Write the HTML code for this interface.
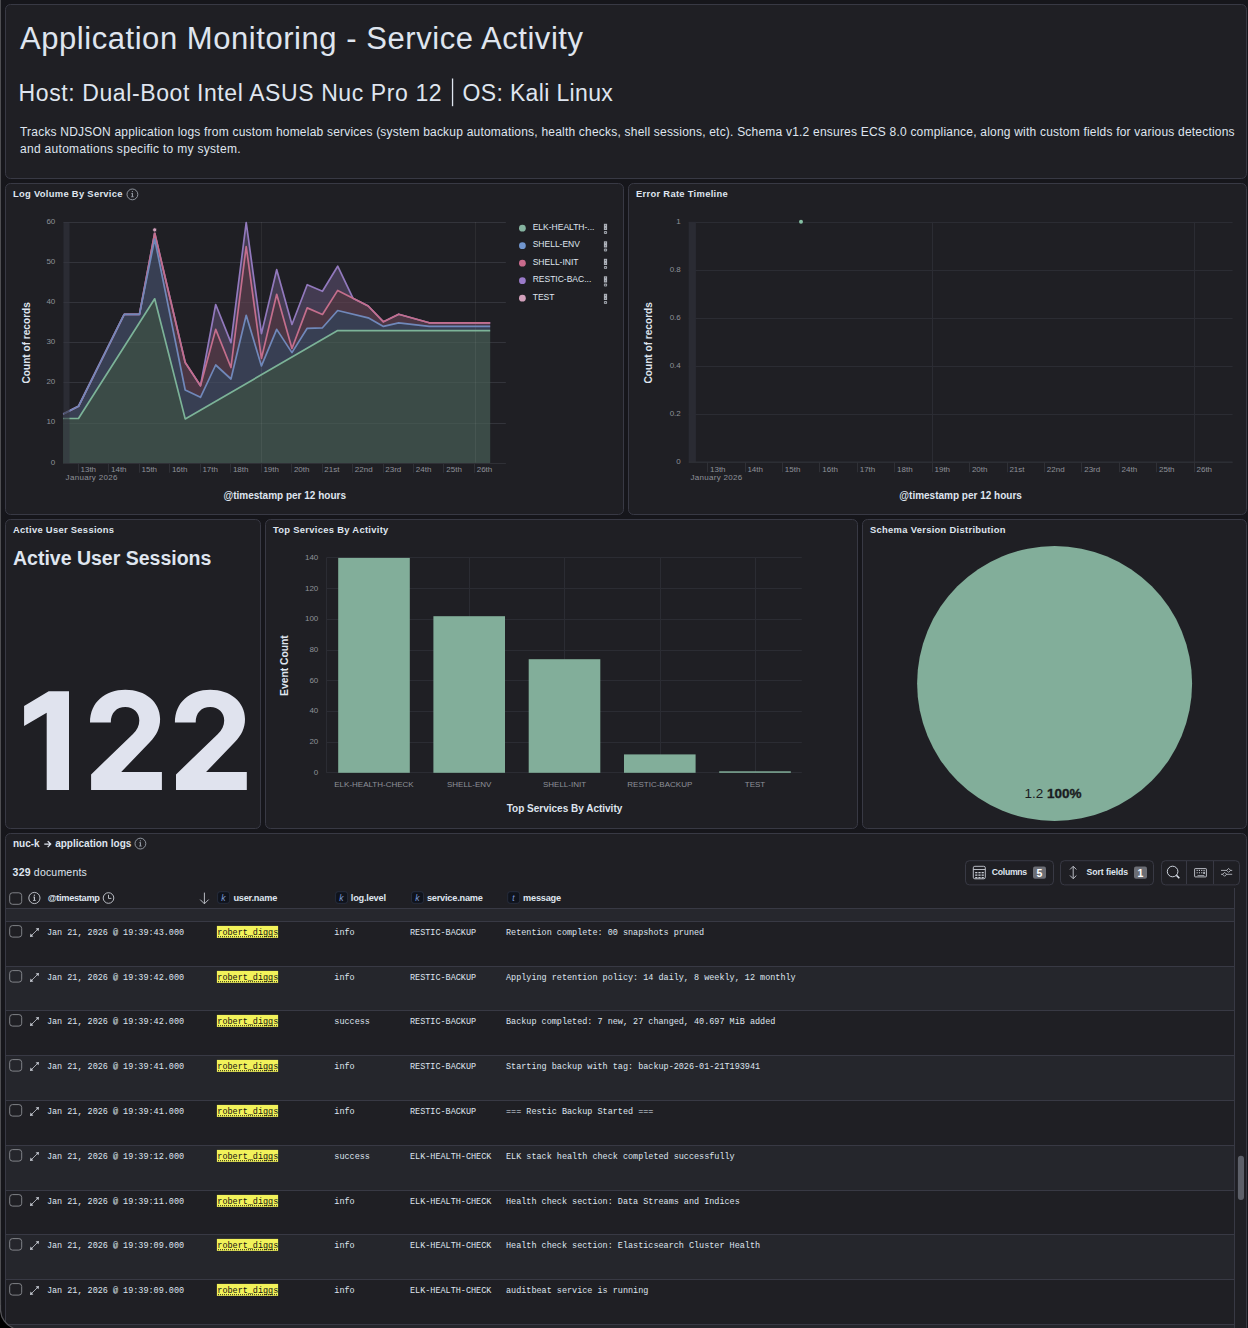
<!DOCTYPE html>
<html><head><meta charset="utf-8"><title>Application Monitoring - Service Activity</title>
<style>
html,body{margin:0;padding:0;background:#16161b;width:1248px;height:1328px;overflow:hidden;font-family:"Liberation Sans", sans-serif;}
svg{position:absolute;left:0;top:0;display:block}
.edge{position:absolute;left:0;top:0;width:1px;height:1305px;background:#4e4e52}
</style></head>
<body>
<svg width="1248" height="1328" viewBox="0 0 1248 1328">
<rect x="5.5" y="4.5" width="1241" height="174" rx="5" fill="#1f1f24" stroke="#383944" stroke-width="1"/>
<rect x="5.5" y="183.5" width="618" height="331" rx="5" fill="#1f1f24" stroke="#383944" stroke-width="1"/>
<rect x="628.5" y="183.5" width="618" height="331" rx="5" fill="#1f1f24" stroke="#383944" stroke-width="1"/>
<rect x="5.5" y="519.5" width="255" height="309" rx="5" fill="#1f1f24" stroke="#383944" stroke-width="1"/>
<rect x="265.5" y="519.5" width="592" height="309" rx="5" fill="#1f1f24" stroke="#383944" stroke-width="1"/>
<rect x="862.5" y="519.5" width="384" height="309" rx="5" fill="#1f1f24" stroke="#383944" stroke-width="1"/>
<rect x="5.5" y="833.5" width="1241" height="507" rx="5" fill="#1f1f24" stroke="#383944" stroke-width="1"/>
<text x="20" y="48.9" font-family='"Liberation Sans", sans-serif' font-size="31" font-weight="normal" fill="#dfe5ef" text-anchor="start" letter-spacing="0.55" >Application Monitoring - Service Activity</text>
<text x="18.6" y="100.8" font-family='"Liberation Sans", sans-serif' font-size="23" font-weight="normal" fill="#dfe5ef" text-anchor="start" letter-spacing="0.6" >Host: Dual-Boot Intel ASUS Nuc Pro 12</text>
<rect x="451.9" y="78.5" width="1.3" height="27.7" fill="#dfe5ef"/>
<text x="462.5" y="100.8" font-family='"Liberation Sans", sans-serif' font-size="23" font-weight="normal" fill="#dfe5ef" text-anchor="start" letter-spacing="0.35" >OS: Kali Linux</text>
<text x="20" y="135.8" font-family='"Liberation Sans", sans-serif' font-size="12" font-weight="normal" fill="#dfe5ef" text-anchor="start" letter-spacing="0.208" >Tracks NDJSON application logs from custom homelab services (system backup automations, health checks, shell sessions, etc). Schema v1.2 ensures ECS 8.0 compliance, along with custom fields for various detections</text>
<text x="20" y="152.5" font-family='"Liberation Sans", sans-serif' font-size="12" font-weight="normal" fill="#dfe5ef" text-anchor="start" letter-spacing="0.3" >and automations specific to my system.</text>
<text x="13" y="197" font-family='"Liberation Sans", sans-serif' font-size="9.4" font-weight="bold" fill="#dfe5ef" text-anchor="start" letter-spacing="0.3" >Log Volume By Service</text>
<text x="636" y="197" font-family='"Liberation Sans", sans-serif' font-size="9.4" font-weight="bold" fill="#dfe5ef" text-anchor="start" letter-spacing="0.3" >Error Rate Timeline</text>
<text x="13" y="533.3" font-family='"Liberation Sans", sans-serif' font-size="9.4" font-weight="bold" fill="#dfe5ef" text-anchor="start" letter-spacing="0.3" >Active User Sessions</text>
<text x="273" y="533.3" font-family='"Liberation Sans", sans-serif' font-size="9.4" font-weight="bold" fill="#dfe5ef" text-anchor="start" letter-spacing="0.3" >Top Services By Activity</text>
<text x="870" y="533.3" font-family='"Liberation Sans", sans-serif' font-size="9.4" font-weight="bold" fill="#dfe5ef" text-anchor="start" letter-spacing="0.3" >Schema Version Distribution</text>
<text x="13" y="847.2" font-family='"Liberation Sans", sans-serif' font-size="10" font-weight="bold" fill="#dfe5ef" text-anchor="start" >nuc-k</text>
<text x="55.2" y="847.2" font-family='"Liberation Sans", sans-serif' font-size="10" font-weight="bold" fill="#dfe5ef" text-anchor="start" >application logs</text>
<path d="M44.3,844.1 H50.6 M47.7,841.1 L50.7,844.1 L47.7,847.1" fill="none" stroke="#dfe5ef" stroke-width="1.3"/>
<circle cx="132.4" cy="194.4" r="5.4" fill="none" stroke="#9aa0aa" stroke-width="0.9"/>
<rect x="131.85" y="193.10" width="1.1" height="3.8" fill="#9aa0aa"/>
<rect x="131.30" y="193.10" width="1.1" height="0.7" fill="#9aa0aa"/>
<rect x="131.00" y="196.50" width="2.8" height="0.7" fill="#9aa0aa"/>
<circle cx="132.4" cy="191.60" r="0.65" fill="#9aa0aa"/>
<circle cx="140.4" cy="843.6" r="5.4" fill="none" stroke="#9aa0aa" stroke-width="0.9"/>
<rect x="139.85" y="842.30" width="1.1" height="3.8" fill="#9aa0aa"/>
<rect x="139.30" y="842.30" width="1.1" height="0.7" fill="#9aa0aa"/>
<rect x="139.00" y="845.70" width="2.8" height="0.7" fill="#9aa0aa"/>
<circle cx="140.4" cy="840.80" r="0.65" fill="#9aa0aa"/>
<line x1="63.5" y1="463.5" x2="505.9" y2="463.5" stroke="#2b2c33" stroke-width="1"/>
<text x="55.3" y="464.5" font-family='"Liberation Sans", sans-serif' font-size="8" font-weight="normal" fill="#8e9199" text-anchor="end" >0</text>
<line x1="63.5" y1="423.5" x2="505.9" y2="423.5" stroke="#2b2c33" stroke-width="1"/>
<text x="55.3" y="424.4" font-family='"Liberation Sans", sans-serif' font-size="8" font-weight="normal" fill="#8e9199" text-anchor="end" >10</text>
<line x1="63.5" y1="382.5" x2="505.9" y2="382.5" stroke="#2b2c33" stroke-width="1"/>
<text x="55.3" y="384.3" font-family='"Liberation Sans", sans-serif' font-size="8" font-weight="normal" fill="#8e9199" text-anchor="end" >20</text>
<line x1="63.5" y1="342.5" x2="505.9" y2="342.5" stroke="#2b2c33" stroke-width="1"/>
<text x="55.3" y="344.2" font-family='"Liberation Sans", sans-serif' font-size="8" font-weight="normal" fill="#8e9199" text-anchor="end" >30</text>
<line x1="63.5" y1="302.5" x2="505.9" y2="302.5" stroke="#2b2c33" stroke-width="1"/>
<text x="55.3" y="304.1" font-family='"Liberation Sans", sans-serif' font-size="8" font-weight="normal" fill="#8e9199" text-anchor="end" >40</text>
<line x1="63.5" y1="262.5" x2="505.9" y2="262.5" stroke="#2b2c33" stroke-width="1"/>
<text x="55.3" y="264.0" font-family='"Liberation Sans", sans-serif' font-size="8" font-weight="normal" fill="#8e9199" text-anchor="end" >50</text>
<line x1="63.5" y1="222.5" x2="505.9" y2="222.5" stroke="#2b2c33" stroke-width="1"/>
<text x="55.3" y="223.90000000000003" font-family='"Liberation Sans", sans-serif' font-size="8" font-weight="normal" fill="#8e9199" text-anchor="end" >60</text>
<polygon points="63.20,418.50 78.45,418.50 93.70,394.56 108.95,370.62 124.20,346.68 139.45,322.74 154.70,298.80 169.95,358.85 185.20,418.90 200.45,410.07 215.70,401.24 230.95,392.41 246.20,383.58 261.45,374.75 276.70,365.92 291.95,357.09 307.20,348.26 322.45,339.43 337.70,330.60 352.95,330.60 368.20,330.60 383.45,330.60 398.70,330.60 413.95,330.60 429.20,330.60 444.45,330.60 459.70,330.60 474.95,330.60 490.20,330.60 490.20,463.50 474.95,463.50 459.70,463.50 444.45,463.50 429.20,463.50 413.95,463.50 398.70,463.50 383.45,463.50 368.20,463.50 352.95,463.50 337.70,463.50 322.45,463.50 307.20,463.50 291.95,463.50 276.70,463.50 261.45,463.50 246.20,463.50 230.95,463.50 215.70,463.50 200.45,463.50 185.20,463.50 169.95,463.50 154.70,463.50 139.45,463.50 124.20,463.50 108.95,463.50 93.70,463.50 78.45,463.50 63.20,463.50" fill="#3b4b47"/>
<polygon points="63.20,414.00 78.45,406.30 93.70,375.67 108.95,345.03 124.20,314.40 139.45,314.40 154.70,239.00 169.95,314.50 185.20,390.00 200.45,397.30 215.70,365.00 230.95,379.00 246.20,315.30 261.45,365.90 276.70,329.40 291.95,352.60 307.20,328.30 322.45,327.80 337.70,310.50 352.95,314.15 368.20,317.80 383.45,326.40 398.70,322.80 413.95,324.60 429.20,326.40 444.45,326.40 459.70,326.40 474.95,326.40 490.20,326.40 490.20,330.60 474.95,330.60 459.70,330.60 444.45,330.60 429.20,330.60 413.95,330.60 398.70,330.60 383.45,330.60 368.20,330.60 352.95,330.60 337.70,330.60 322.45,339.43 307.20,348.26 291.95,357.09 276.70,365.92 261.45,374.75 246.20,383.58 230.95,392.41 215.70,401.24 200.45,410.07 185.20,418.90 169.95,358.85 154.70,298.80 139.45,322.74 124.20,346.68 108.95,370.62 93.70,394.56 78.45,418.50 63.20,418.50" fill="#383f53"/>
<polygon points="63.20,414.00 78.45,406.30 93.70,375.67 108.95,345.03 124.20,314.40 139.45,314.40 154.70,233.00 169.95,297.75 185.20,362.50 200.45,385.80 215.70,329.40 230.95,367.50 246.20,246.50 261.45,358.40 276.70,294.30 291.95,348.50 307.20,307.90 322.45,314.50 337.70,290.40 352.95,298.20 368.20,306.00 383.45,321.80 398.70,314.20 413.95,318.50 429.20,322.80 444.45,322.80 459.70,322.80 474.95,322.80 490.20,322.80 490.20,326.40 474.95,326.40 459.70,326.40 444.45,326.40 429.20,326.40 413.95,324.60 398.70,322.80 383.45,326.40 368.20,317.80 352.95,314.15 337.70,310.50 322.45,327.80 307.20,328.30 291.95,352.60 276.70,329.40 261.45,365.90 246.20,315.30 230.95,379.00 215.70,365.00 200.45,397.30 185.20,390.00 169.95,314.50 154.70,239.00 139.45,314.40 124.20,314.40 108.95,345.03 93.70,375.67 78.45,406.30 63.20,414.00" fill="#4b3643"/>
<polygon points="63.20,414.00 78.45,406.30 93.70,375.67 108.95,345.03 124.20,314.40 139.45,314.40 154.70,233.00 169.95,297.75 185.20,362.50 200.45,385.80 215.70,304.50 230.95,342.60 246.20,222.50 261.45,333.60 276.70,269.70 291.95,324.50 307.20,284.70 322.45,291.30 337.70,266.20 352.95,298.20 368.20,306.00 383.45,321.80 398.70,314.20 413.95,318.50 429.20,322.80 444.45,322.80 459.70,322.80 474.95,322.80 490.20,322.80 490.20,322.80 474.95,322.80 459.70,322.80 444.45,322.80 429.20,322.80 413.95,318.50 398.70,314.20 383.45,321.80 368.20,306.00 352.95,298.20 337.70,290.40 322.45,314.50 307.20,307.90 291.95,348.50 276.70,294.30 261.45,358.40 246.20,246.50 230.95,367.50 215.70,329.40 200.45,385.80 185.20,362.50 169.95,297.75 154.70,233.00 139.45,314.40 124.20,314.40 108.95,345.03 93.70,375.67 78.45,406.30 63.20,414.00" fill="#433b51"/>
<line x1="63.5" y1="423.5" x2="505.9" y2="423.5" stroke="#ffffff" stroke-opacity="0.04" stroke-width="1"/>
<line x1="63.5" y1="382.5" x2="505.9" y2="382.5" stroke="#ffffff" stroke-opacity="0.04" stroke-width="1"/>
<line x1="63.5" y1="342.5" x2="505.9" y2="342.5" stroke="#ffffff" stroke-opacity="0.04" stroke-width="1"/>
<line x1="63.5" y1="302.5" x2="505.9" y2="302.5" stroke="#ffffff" stroke-opacity="0.04" stroke-width="1"/>
<line x1="63.5" y1="262.5" x2="505.9" y2="262.5" stroke="#ffffff" stroke-opacity="0.04" stroke-width="1"/>
<line x1="63.5" y1="222.5" x2="505.9" y2="222.5" stroke="#ffffff" stroke-opacity="0.04" stroke-width="1"/>
<line x1="261.5" y1="222.0" x2="261.5" y2="462.6" stroke="#ffffff" stroke-opacity="0.06" stroke-width="1"/>
<line x1="475.5" y1="222.0" x2="475.5" y2="462.6" stroke="#ffffff" stroke-opacity="0.06" stroke-width="1"/>
<polyline points="63.20,414.00 78.45,406.30 124.20,314.40 139.45,314.40 154.70,233.00 185.20,362.50 200.45,385.80 215.70,304.50 230.95,342.60 246.20,222.50 261.45,333.60 276.70,269.70 291.95,324.50 307.20,284.70 322.45,291.30 337.70,266.20 352.95,298.20 368.20,306.00 383.45,321.80 398.70,314.20 429.20,322.80 490.20,322.80" fill="none" stroke="#9279bd" stroke-width="1.7" stroke-linejoin="round"/>
<polyline points="63.20,414.00 78.45,406.30 124.20,314.40 139.45,314.40 154.70,233.00 185.20,362.50 200.45,385.80 215.70,329.40 230.95,367.50 246.20,246.50 261.45,358.40 276.70,294.30 291.95,348.50 307.20,307.90 322.45,314.50 337.70,290.40 368.20,306.00 383.45,321.80 398.70,314.20 429.20,322.80 490.20,322.80" fill="none" stroke="#c46e8c" stroke-width="1.7" stroke-linejoin="round"/>
<polyline points="63.20,414.00 78.45,406.30 124.20,314.40 139.45,314.40 154.70,239.00 185.20,390.00 200.45,397.30 215.70,365.00 230.95,379.00 246.20,315.30 261.45,365.90 276.70,329.40 291.95,352.60 307.20,328.30 322.45,327.80 337.70,310.50 368.20,317.80 383.45,326.40 398.70,322.80 429.20,326.40 490.20,326.40" fill="none" stroke="#7088ba" stroke-width="1.7" stroke-linejoin="round"/>
<polyline points="63.20,418.50 78.45,418.50 154.70,298.80 185.20,418.90 337.70,330.60 490.20,330.60" fill="none" stroke="#7cb398" stroke-width="1.7" stroke-linejoin="round"/>
<circle cx="154.7" cy="229.9" r="2.1" fill="#d2a0bb" stroke="#1f1f24" stroke-width="0.8"/>
<rect x="63.5" y="222.0" width="6" height="241.5" fill="#34353f" fill-opacity="0.6"/>
<line x1="78.5" y1="463.5" x2="78.5" y2="472.7" stroke="#2f3036" stroke-width="1"/>
<text x="80.5" y="472" font-family='"Liberation Sans", sans-serif' font-size="8" font-weight="normal" fill="#8e9199" text-anchor="start" >13th</text>
<line x1="108.5" y1="463.5" x2="108.5" y2="472.7" stroke="#2f3036" stroke-width="1"/>
<text x="111.0" y="472" font-family='"Liberation Sans", sans-serif' font-size="8" font-weight="normal" fill="#8e9199" text-anchor="start" >14th</text>
<line x1="139.5" y1="463.5" x2="139.5" y2="472.7" stroke="#2f3036" stroke-width="1"/>
<text x="141.5" y="472" font-family='"Liberation Sans", sans-serif' font-size="8" font-weight="normal" fill="#8e9199" text-anchor="start" >15th</text>
<line x1="169.5" y1="463.5" x2="169.5" y2="472.7" stroke="#2f3036" stroke-width="1"/>
<text x="171.9" y="472" font-family='"Liberation Sans", sans-serif' font-size="8" font-weight="normal" fill="#8e9199" text-anchor="start" >16th</text>
<line x1="200.5" y1="463.5" x2="200.5" y2="472.7" stroke="#2f3036" stroke-width="1"/>
<text x="202.4" y="472" font-family='"Liberation Sans", sans-serif' font-size="8" font-weight="normal" fill="#8e9199" text-anchor="start" >17th</text>
<line x1="230.5" y1="463.5" x2="230.5" y2="472.7" stroke="#2f3036" stroke-width="1"/>
<text x="232.9" y="472" font-family='"Liberation Sans", sans-serif' font-size="8" font-weight="normal" fill="#8e9199" text-anchor="start" >18th</text>
<line x1="261.5" y1="463.5" x2="261.5" y2="472.7" stroke="#2f3036" stroke-width="1"/>
<text x="263.4" y="472" font-family='"Liberation Sans", sans-serif' font-size="8" font-weight="normal" fill="#8e9199" text-anchor="start" >19th</text>
<line x1="291.5" y1="463.5" x2="291.5" y2="472.7" stroke="#2f3036" stroke-width="1"/>
<text x="293.9" y="472" font-family='"Liberation Sans", sans-serif' font-size="8" font-weight="normal" fill="#8e9199" text-anchor="start" >20th</text>
<line x1="322.5" y1="463.5" x2="322.5" y2="472.7" stroke="#2f3036" stroke-width="1"/>
<text x="324.3" y="472" font-family='"Liberation Sans", sans-serif' font-size="8" font-weight="normal" fill="#8e9199" text-anchor="start" >21st</text>
<line x1="352.5" y1="463.5" x2="352.5" y2="472.7" stroke="#2f3036" stroke-width="1"/>
<text x="354.8" y="472" font-family='"Liberation Sans", sans-serif' font-size="8" font-weight="normal" fill="#8e9199" text-anchor="start" >22nd</text>
<line x1="383.5" y1="463.5" x2="383.5" y2="472.7" stroke="#2f3036" stroke-width="1"/>
<text x="385.3" y="472" font-family='"Liberation Sans", sans-serif' font-size="8" font-weight="normal" fill="#8e9199" text-anchor="start" >23rd</text>
<line x1="413.5" y1="463.5" x2="413.5" y2="472.7" stroke="#2f3036" stroke-width="1"/>
<text x="415.8" y="472" font-family='"Liberation Sans", sans-serif' font-size="8" font-weight="normal" fill="#8e9199" text-anchor="start" >24th</text>
<line x1="443.5" y1="463.5" x2="443.5" y2="472.7" stroke="#2f3036" stroke-width="1"/>
<text x="446.3" y="472" font-family='"Liberation Sans", sans-serif' font-size="8" font-weight="normal" fill="#8e9199" text-anchor="start" >25th</text>
<line x1="474.5" y1="463.5" x2="474.5" y2="472.7" stroke="#2f3036" stroke-width="1"/>
<text x="476.7" y="472" font-family='"Liberation Sans", sans-serif' font-size="8" font-weight="normal" fill="#8e9199" text-anchor="start" >26th</text>
<line x1="63.5" y1="463.5" x2="505.9" y2="463.5" stroke="#2f3036" stroke-width="1"/>
<text x="65.6" y="480.4" font-family='"Liberation Sans", sans-serif' font-size="8" font-weight="normal" fill="#8e9199" text-anchor="start" letter-spacing="0.3" >January 2026</text>
<text x="284.7" y="498.8" font-family='"Liberation Sans", sans-serif' font-size="10" font-weight="bold" fill="#dfe5ef" text-anchor="middle" >@timestamp per 12 hours</text>
<text x="0" y="0" transform="translate(29.6,342.8) rotate(-90)" font-family='"Liberation Sans", sans-serif' font-size="10.1" font-weight="bold" fill="#dfe5ef" text-anchor="middle">Count of records</text>
<circle cx="522.4" cy="228.2" r="3.4" fill="#85b3a0"/>
<text x="532.7" y="229.79999999999998" font-family='"Liberation Sans", sans-serif' font-size="8.5" font-weight="normal" fill="#dfe5ef" text-anchor="start" >ELK-HEALTH-...</text>
<rect x="603.9" y="223.8" width="3.2" height="6.2" fill="#aeb2ba"/>
<circle cx="605.4" cy="225.3" r="0.55" fill="#55585f"/>
<circle cx="605.4" cy="228.3" r="0.55" fill="#55585f"/>
<rect x="603.9" y="231.0" width="3.2" height="3.1" rx="1" fill="#9a9ea6"/>
<circle cx="605.4" cy="232.5" r="0.6" fill="#3a3c42"/>
<circle cx="522.4" cy="245.7" r="3.4" fill="#7196cf"/>
<text x="532.7" y="247.29999999999998" font-family='"Liberation Sans", sans-serif' font-size="8.5" font-weight="normal" fill="#dfe5ef" text-anchor="start" >SHELL-ENV</text>
<rect x="603.9" y="241.3" width="3.2" height="6.2" fill="#aeb2ba"/>
<circle cx="605.4" cy="242.8" r="0.55" fill="#55585f"/>
<circle cx="605.4" cy="245.8" r="0.55" fill="#55585f"/>
<rect x="603.9" y="248.5" width="3.2" height="3.1" rx="1" fill="#9a9ea6"/>
<circle cx="605.4" cy="250.0" r="0.6" fill="#3a3c42"/>
<circle cx="522.4" cy="263.2" r="3.4" fill="#c96a8c"/>
<text x="532.7" y="264.8" font-family='"Liberation Sans", sans-serif' font-size="8.5" font-weight="normal" fill="#dfe5ef" text-anchor="start" >SHELL-INIT</text>
<rect x="603.9" y="258.8" width="3.2" height="6.2" fill="#aeb2ba"/>
<circle cx="605.4" cy="260.3" r="0.55" fill="#55585f"/>
<circle cx="605.4" cy="263.3" r="0.55" fill="#55585f"/>
<rect x="603.9" y="266.0" width="3.2" height="3.1" rx="1" fill="#9a9ea6"/>
<circle cx="605.4" cy="267.6" r="0.6" fill="#3a3c42"/>
<circle cx="522.4" cy="280.7" r="3.4" fill="#9a7ac9"/>
<text x="532.7" y="282.3" font-family='"Liberation Sans", sans-serif' font-size="8.5" font-weight="normal" fill="#dfe5ef" text-anchor="start" >RESTIC-BAC...</text>
<rect x="603.9" y="276.3" width="3.2" height="6.2" fill="#aeb2ba"/>
<circle cx="605.4" cy="277.8" r="0.55" fill="#55585f"/>
<circle cx="605.4" cy="280.8" r="0.55" fill="#55585f"/>
<rect x="603.9" y="283.5" width="3.2" height="3.1" rx="1" fill="#9a9ea6"/>
<circle cx="605.4" cy="285.1" r="0.6" fill="#3a3c42"/>
<circle cx="522.4" cy="298.2" r="3.4" fill="#d2a0bb"/>
<text x="532.7" y="299.8" font-family='"Liberation Sans", sans-serif' font-size="8.5" font-weight="normal" fill="#dfe5ef" text-anchor="start" >TEST</text>
<rect x="603.9" y="293.8" width="3.2" height="6.2" fill="#aeb2ba"/>
<circle cx="605.4" cy="295.3" r="0.55" fill="#55585f"/>
<circle cx="605.4" cy="298.3" r="0.55" fill="#55585f"/>
<rect x="603.9" y="301.0" width="3.2" height="3.1" rx="1" fill="#9a9ea6"/>
<circle cx="605.4" cy="302.6" r="0.6" fill="#3a3c42"/>
<line x1="688.7" y1="462.5" x2="1232.6" y2="462.5" stroke="#2b2c33" stroke-width="1"/>
<text x="680.8" y="463.9" font-family='"Liberation Sans", sans-serif' font-size="8" font-weight="normal" fill="#8e9199" text-anchor="end" >0</text>
<line x1="688.7" y1="414.5" x2="1232.6" y2="414.5" stroke="#2b2c33" stroke-width="1"/>
<text x="680.8" y="415.85999999999996" font-family='"Liberation Sans", sans-serif' font-size="8" font-weight="normal" fill="#8e9199" text-anchor="end" >0.2</text>
<line x1="688.7" y1="366.5" x2="1232.6" y2="366.5" stroke="#2b2c33" stroke-width="1"/>
<text x="680.8" y="367.82" font-family='"Liberation Sans", sans-serif' font-size="8" font-weight="normal" fill="#8e9199" text-anchor="end" >0.4</text>
<line x1="688.7" y1="318.5" x2="1232.6" y2="318.5" stroke="#2b2c33" stroke-width="1"/>
<text x="680.8" y="319.78" font-family='"Liberation Sans", sans-serif' font-size="8" font-weight="normal" fill="#8e9199" text-anchor="end" >0.6</text>
<line x1="688.7" y1="270.5" x2="1232.6" y2="270.5" stroke="#2b2c33" stroke-width="1"/>
<text x="680.8" y="271.74" font-family='"Liberation Sans", sans-serif' font-size="8" font-weight="normal" fill="#8e9199" text-anchor="end" >0.8</text>
<line x1="688.7" y1="222.5" x2="1232.6" y2="222.5" stroke="#2b2c33" stroke-width="1"/>
<text x="680.8" y="223.70000000000002" font-family='"Liberation Sans", sans-serif' font-size="8" font-weight="normal" fill="#8e9199" text-anchor="end" >1</text>
<rect x="688.7" y="221.8" width="7.2" height="240.2" fill="#2a2b33"/>
<line x1="932.5" y1="221.8" x2="932.5" y2="462.0" stroke="#2b2c33" stroke-width="1"/>
<line x1="1194.5" y1="221.8" x2="1194.5" y2="462.0" stroke="#2b2c33" stroke-width="1"/>
<line x1="707.5" y1="462.0" x2="707.5" y2="472.2" stroke="#2f3036" stroke-width="1"/>
<text x="710.0" y="471.5" font-family='"Liberation Sans", sans-serif' font-size="8" font-weight="normal" fill="#8e9199" text-anchor="start" >13th</text>
<line x1="745.5" y1="462.0" x2="745.5" y2="472.2" stroke="#2f3036" stroke-width="1"/>
<text x="747.4" y="471.5" font-family='"Liberation Sans", sans-serif' font-size="8" font-weight="normal" fill="#8e9199" text-anchor="start" >14th</text>
<line x1="782.5" y1="462.0" x2="782.5" y2="472.2" stroke="#2f3036" stroke-width="1"/>
<text x="784.8" y="471.5" font-family='"Liberation Sans", sans-serif' font-size="8" font-weight="normal" fill="#8e9199" text-anchor="start" >15th</text>
<line x1="819.5" y1="462.0" x2="819.5" y2="472.2" stroke="#2f3036" stroke-width="1"/>
<text x="822.3" y="471.5" font-family='"Liberation Sans", sans-serif' font-size="8" font-weight="normal" fill="#8e9199" text-anchor="start" >16th</text>
<line x1="857.5" y1="462.0" x2="857.5" y2="472.2" stroke="#2f3036" stroke-width="1"/>
<text x="859.7" y="471.5" font-family='"Liberation Sans", sans-serif' font-size="8" font-weight="normal" fill="#8e9199" text-anchor="start" >17th</text>
<line x1="894.5" y1="462.0" x2="894.5" y2="472.2" stroke="#2f3036" stroke-width="1"/>
<text x="897.1" y="471.5" font-family='"Liberation Sans", sans-serif' font-size="8" font-weight="normal" fill="#8e9199" text-anchor="start" >18th</text>
<line x1="932.5" y1="462.0" x2="932.5" y2="472.2" stroke="#2f3036" stroke-width="1"/>
<text x="934.5" y="471.5" font-family='"Liberation Sans", sans-serif' font-size="8" font-weight="normal" fill="#8e9199" text-anchor="start" >19th</text>
<line x1="969.5" y1="462.0" x2="969.5" y2="472.2" stroke="#2f3036" stroke-width="1"/>
<text x="971.9" y="471.5" font-family='"Liberation Sans", sans-serif' font-size="8" font-weight="normal" fill="#8e9199" text-anchor="start" >20th</text>
<line x1="1007.5" y1="462.0" x2="1007.5" y2="472.2" stroke="#2f3036" stroke-width="1"/>
<text x="1009.4" y="471.5" font-family='"Liberation Sans", sans-serif' font-size="8" font-weight="normal" fill="#8e9199" text-anchor="start" >21st</text>
<line x1="1044.5" y1="462.0" x2="1044.5" y2="472.2" stroke="#2f3036" stroke-width="1"/>
<text x="1046.8" y="471.5" font-family='"Liberation Sans", sans-serif' font-size="8" font-weight="normal" fill="#8e9199" text-anchor="start" >22nd</text>
<line x1="1081.5" y1="462.0" x2="1081.5" y2="472.2" stroke="#2f3036" stroke-width="1"/>
<text x="1084.2" y="471.5" font-family='"Liberation Sans", sans-serif' font-size="8" font-weight="normal" fill="#8e9199" text-anchor="start" >23rd</text>
<line x1="1119.5" y1="462.0" x2="1119.5" y2="472.2" stroke="#2f3036" stroke-width="1"/>
<text x="1121.6" y="471.5" font-family='"Liberation Sans", sans-serif' font-size="8" font-weight="normal" fill="#8e9199" text-anchor="start" >24th</text>
<line x1="1156.5" y1="462.0" x2="1156.5" y2="472.2" stroke="#2f3036" stroke-width="1"/>
<text x="1159.0" y="471.5" font-family='"Liberation Sans", sans-serif' font-size="8" font-weight="normal" fill="#8e9199" text-anchor="start" >25th</text>
<line x1="1194.5" y1="462.0" x2="1194.5" y2="472.2" stroke="#2f3036" stroke-width="1"/>
<text x="1196.5" y="471.5" font-family='"Liberation Sans", sans-serif' font-size="8" font-weight="normal" fill="#8e9199" text-anchor="start" >26th</text>
<line x1="688.7" y1="462.0" x2="1232.6" y2="462.0" stroke="#2f3036" stroke-width="1"/>
<text x="690.5" y="480.2" font-family='"Liberation Sans", sans-serif' font-size="8" font-weight="normal" fill="#8e9199" text-anchor="start" letter-spacing="0.3" >January 2026</text>
<text x="960.6" y="498.5" font-family='"Liberation Sans", sans-serif' font-size="10" font-weight="bold" fill="#dfe5ef" text-anchor="middle" >@timestamp per 12 hours</text>
<text x="0" y="0" transform="translate(652.4,342.8) rotate(-90)" font-family='"Liberation Sans", sans-serif' font-size="10.1" font-weight="bold" fill="#dfe5ef" text-anchor="middle">Count of records</text>
<circle cx="801" cy="221.8" r="2" fill="#85bfa3"/>
<text x="13" y="565" font-family='"Liberation Sans", sans-serif' font-size="19.5" font-weight="bold" fill="#dfe5ef" text-anchor="start" >Active User Sessions</text>
<path d="M24.1,706 L48.7,691.3 L69,691.3 L69,789.9 L46.7,789.9 L46.7,712.7 L24.1,726 Z" fill="#e0e3ee"/>
<path d="M90.0,722.5 C90.0,702 105.5,689.8 125.3,689.8 C145.5,689.8 160.1,702 160.1,719 C160.1,728.5 156.5,735 150.0,742 L121.2,772 L161.9,772 L161.9,790.1 L91.1,790.1 L91.1,774.4 L133.0,734 C137.0,730 139.3,725.5 139.3,720.5 C139.3,712.5 133.5,707.1 125.3,707.1 C116.5,707.1 110.8,713 110.8,722.5 Z" fill="#e0e3ee"/>
<path d="M174.9,722.5 C174.9,702 190.4,689.8 210.2,689.8 C230.4,689.8 245.0,702 245.0,719 C245.0,728.5 241.4,735 234.9,742 L206.1,772 L246.8,772 L246.8,790.1 L176.0,790.1 L176.0,774.4 L217.9,734 C221.9,730 224.2,725.5 224.2,720.5 C224.2,712.5 218.4,707.1 210.2,707.1 C201.4,707.1 195.7,713 195.7,722.5 Z" fill="#e0e3ee"/>
<line x1="326.3" y1="772.5" x2="801.8" y2="772.5" stroke="#2b2c33" stroke-width="1"/>
<text x="318.3" y="774.6999999999999" font-family='"Liberation Sans", sans-serif' font-size="8" font-weight="normal" fill="#8e9199" text-anchor="end" >0</text>
<line x1="326.3" y1="742.5" x2="801.8" y2="742.5" stroke="#2b2c33" stroke-width="1"/>
<text x="318.3" y="743.9999999999999" font-family='"Liberation Sans", sans-serif' font-size="8" font-weight="normal" fill="#8e9199" text-anchor="end" >20</text>
<line x1="326.3" y1="711.5" x2="801.8" y2="711.5" stroke="#2b2c33" stroke-width="1"/>
<text x="318.3" y="713.3" font-family='"Liberation Sans", sans-serif' font-size="8" font-weight="normal" fill="#8e9199" text-anchor="end" >40</text>
<line x1="326.3" y1="680.5" x2="801.8" y2="680.5" stroke="#2b2c33" stroke-width="1"/>
<text x="318.3" y="682.5999999999999" font-family='"Liberation Sans", sans-serif' font-size="8" font-weight="normal" fill="#8e9199" text-anchor="end" >60</text>
<line x1="326.3" y1="650.5" x2="801.8" y2="650.5" stroke="#2b2c33" stroke-width="1"/>
<text x="318.3" y="651.9" font-family='"Liberation Sans", sans-serif' font-size="8" font-weight="normal" fill="#8e9199" text-anchor="end" >80</text>
<line x1="326.3" y1="619.5" x2="801.8" y2="619.5" stroke="#2b2c33" stroke-width="1"/>
<text x="318.3" y="621.1999999999999" font-family='"Liberation Sans", sans-serif' font-size="8" font-weight="normal" fill="#8e9199" text-anchor="end" >100</text>
<line x1="326.3" y1="588.5" x2="801.8" y2="588.5" stroke="#2b2c33" stroke-width="1"/>
<text x="318.3" y="590.4999999999999" font-family='"Liberation Sans", sans-serif' font-size="8" font-weight="normal" fill="#8e9199" text-anchor="end" >120</text>
<line x1="326.3" y1="557.5" x2="801.8" y2="557.5" stroke="#2b2c33" stroke-width="1"/>
<text x="318.3" y="559.8" font-family='"Liberation Sans", sans-serif' font-size="8" font-weight="normal" fill="#8e9199" text-anchor="end" >140</text>
<line x1="326.5" y1="557.9" x2="326.5" y2="772.8" stroke="#2b2c33" stroke-width="1"/>
<line x1="374.5" y1="557.9" x2="374.5" y2="772.8" stroke="#2b2c33" stroke-width="1"/>
<line x1="469.5" y1="557.9" x2="469.5" y2="772.8" stroke="#2b2c33" stroke-width="1"/>
<line x1="564.5" y1="557.9" x2="564.5" y2="772.8" stroke="#2b2c33" stroke-width="1"/>
<line x1="660.5" y1="557.9" x2="660.5" y2="772.8" stroke="#2b2c33" stroke-width="1"/>
<line x1="755.5" y1="557.9" x2="755.5" y2="772.8" stroke="#2b2c33" stroke-width="1"/>
<rect x="338.2" y="557.9" width="71.6" height="214.9" fill="#82ae9a"/>
<text x="374.0" y="787.3" font-family='"Liberation Sans", sans-serif' font-size="8" font-weight="normal" fill="#8e9199" text-anchor="middle" >ELK-HEALTH-CHECK</text>
<rect x="433.4" y="616.2" width="71.6" height="156.6" fill="#82ae9a"/>
<text x="469.2" y="787.3" font-family='"Liberation Sans", sans-serif' font-size="8" font-weight="normal" fill="#8e9199" text-anchor="middle" >SHELL-ENV</text>
<rect x="528.7" y="659.2" width="71.6" height="113.6" fill="#82ae9a"/>
<text x="564.5" y="787.3" font-family='"Liberation Sans", sans-serif' font-size="8" font-weight="normal" fill="#8e9199" text-anchor="middle" >SHELL-INIT</text>
<rect x="624.0" y="754.4" width="71.6" height="18.4" fill="#82ae9a"/>
<text x="659.8" y="787.3" font-family='"Liberation Sans", sans-serif' font-size="8" font-weight="normal" fill="#8e9199" text-anchor="middle" >RESTIC-BACKUP</text>
<rect x="719.2" y="771.3" width="71.6" height="1.5" fill="#82ae9a"/>
<text x="755.0" y="787.3" font-family='"Liberation Sans", sans-serif' font-size="8" font-weight="normal" fill="#8e9199" text-anchor="middle" >TEST</text>
<text x="0" y="0" transform="translate(288,665.6) rotate(-90)" font-family='"Liberation Sans", sans-serif' font-size="10.3" font-weight="bold" fill="#dfe5ef" text-anchor="middle">Event Count</text>
<text x="564.5" y="812.1" font-family='"Liberation Sans", sans-serif' font-size="10" font-weight="bold" fill="#dfe5ef" text-anchor="middle" >Top Services By Activity</text>
<circle cx="1054.6" cy="683.5" r="137.5" fill="#82ae9a"/>
<text x="1053" y="798" font-family='"Liberation Sans", sans-serif' font-size="13.5" fill="#1a1c21" text-anchor="middle">1.2 <tspan font-weight="bold" stroke="#1a1c21" stroke-width="0.35">100%</tspan></text>
<text x="12.6" y="876" font-family='"Liberation Sans", sans-serif' font-size="10.5" letter-spacing="0.2" fill="#dfe5ef"><tspan font-weight="bold">329</tspan> documents</text>
<rect x="965.5" y="860.7" width="88" height="24.199999999999932" rx="4" fill="none" stroke="#383944" stroke-width="1"/>
<rect x="1060.5" y="860.7" width="93" height="24.199999999999932" rx="4" fill="none" stroke="#383944" stroke-width="1"/>
<rect x="1161.5" y="860.7" width="78" height="24.199999999999932" rx="4" fill="none" stroke="#383944" stroke-width="1"/>
<line x1="1186.5" y1="861" x2="1186.5" y2="884" stroke="#383944"/>
<line x1="1213.5" y1="861" x2="1213.5" y2="884" stroke="#383944"/>
<text x="991.8" y="875.3" font-family='"Liberation Sans", sans-serif' font-size="8.7" font-weight="bold" fill="#dfe5ef" text-anchor="start" letter-spacing="-0.3" >Columns</text>
<rect x="1033" y="866.4" width="13" height="12.3" rx="2" fill="#6c6e75"/>
<text x="1039.5" y="876.5" font-family='"Liberation Sans", sans-serif' font-size="10.5" font-weight="bold" fill="#ffffff" text-anchor="middle" >5</text>
<text x="1086.6" y="875.3" font-family='"Liberation Sans", sans-serif' font-size="8.7" font-weight="bold" fill="#dfe5ef" text-anchor="start" letter-spacing="-0.1" >Sort fields</text>
<rect x="1134" y="866.4" width="13" height="12.3" rx="2" fill="#6c6e75"/>
<text x="1140.5" y="876.5" font-family='"Liberation Sans", sans-serif' font-size="10.5" font-weight="bold" fill="#ffffff" text-anchor="middle" >1</text>
<rect x="973.3" y="866.3" width="12" height="12.5" rx="1.5" fill="none" stroke="#c8ccd4" stroke-width="0.9"/>
<line x1="973.3" y1="869.5" x2="985.3" y2="869.5" stroke="#c8ccd4" stroke-width="0.9"/>
<rect x="975.2" y="872" width="2.2" height="1.3" fill="#c8ccd4"/>
<rect x="978.4" y="872" width="2.2" height="1.3" fill="#c8ccd4"/>
<rect x="981.6" y="872" width="2.2" height="1.3" fill="#c8ccd4"/>
<rect x="975.2" y="874.5" width="2.2" height="1.3" fill="#c8ccd4"/>
<rect x="978.4" y="874.5" width="2.2" height="1.3" fill="#c8ccd4"/>
<rect x="981.6" y="874.5" width="2.2" height="1.3" fill="#c8ccd4"/>
<rect x="975.2" y="877" width="2.2" height="1.3" fill="#c8ccd4"/>
<rect x="978.4" y="877" width="2.2" height="1.3" fill="#c8ccd4"/>
<rect x="981.6" y="877" width="2.2" height="1.3" fill="#c8ccd4"/>
<path d="M1073.2 866.5 V878.5 M1070 869.5 L1073.2 866.3 L1076.4 869.5 M1070 875.5 L1073.2 878.7 L1076.4 875.5" fill="none" stroke="#c8ccd4" stroke-width="0.9"/>
<circle cx="1172.6" cy="871.5" r="5.3" fill="none" stroke="#dfe5ef" stroke-width="0.9"/>
<path d="M1176.4 875.3 L1179.3 878.2" stroke="#dfe5ef" stroke-width="1.6"/>
<rect x="1194.6" y="868.6" width="11.8" height="8.3" rx="0.6" fill="none" stroke="#c8ccd4" stroke-width="0.9"/>
<rect x="1196.6" y="869.9" width="1.1" height="1.1" fill="#c8ccd4"/>
<rect x="1198.9" y="869.9" width="1.1" height="1.1" fill="#c8ccd4"/>
<rect x="1201.2" y="869.9" width="1.1" height="1.1" fill="#c8ccd4"/>
<rect x="1203.5" y="869.9" width="1.1" height="1.1" fill="#c8ccd4"/>
<rect x="1196.6" y="872" width="1.1" height="1.4" fill="#9a9ea6"/>
<rect x="1198.9" y="872" width="1.1" height="1.4" fill="#9a9ea6"/>
<rect x="1201.2" y="872" width="1.1" height="1.4" fill="#9a9ea6"/>
<rect x="1203.4" y="871.8" width="1.3" height="2.2" fill="#dfe5ef"/>
<rect x="1197.5" y="875.1" width="6.8" height="0.9" fill="#9a9ea6"/>
<path d="M1221 870.4 H1232.2 M1221 874.3 H1232.2" stroke="#c8ccd4" stroke-width="0.8"/>
<path d="M1228.6 868.4 L1230.6 870.4 L1228.6 872.4 L1226.6 870.4 Z" fill="#1f1f24" stroke="#c8ccd4" stroke-width="0.8"/>
<path d="M1224.6 872.3 L1226.6 874.3 L1224.6 876.3 L1222.6 874.3 Z" fill="#1f1f24" stroke="#c8ccd4" stroke-width="0.8"/>
<rect x="9.7" y="892.8" width="12" height="11.5" rx="2.8" fill="none" stroke="#8a8c92" stroke-width="0.9"/>
<circle cx="34.4" cy="898" r="5.6" fill="none" stroke="#c8ccd4" stroke-width="0.9"/>
<rect x="33.85" y="896.70" width="1.1" height="3.8" fill="#c8ccd4"/>
<rect x="33.30" y="896.70" width="1.1" height="0.7" fill="#c8ccd4"/>
<rect x="33.00" y="900.10" width="2.8" height="0.7" fill="#c8ccd4"/>
<circle cx="34.4" cy="895.20" r="0.65" fill="#c8ccd4"/>
<text x="47.7" y="901.0" font-family='"Liberation Sans", sans-serif' font-size="9.2" font-weight="bold" fill="#dfe5ef" text-anchor="start" letter-spacing="-0.3" >@timestamp</text>
<circle cx="108.5" cy="898" r="5.3" fill="none" stroke="#c8ccd4" stroke-width="0.9"/>
<path d="M108.5 894.8 V898.4 H111.4" fill="none" stroke="#c8ccd4" stroke-width="0.9"/>
<path d="M204.4 892.6 V903.6 M200.2 899.6 L204.4 903.8 L208.6 899.6" fill="none" stroke="#c8ccd4" stroke-width="0.9"/>
<rect x="217.6" y="891.7" width="12" height="11.6" rx="2.5" fill="#0f131c" stroke="#2a3142" stroke-width="0.8"/>
<text x="223.4" y="901" font-family='"Liberation Sans", sans-serif' font-size="8.5" font-style="italic" fill="#7c9ad6" text-anchor="middle">k</text>
<text x="233.4" y="900.9" font-family='"Liberation Sans", sans-serif' font-size="9.2" font-weight="bold" fill="#dfe5ef" text-anchor="start" letter-spacing="-0.2" >user.name</text>
<rect x="335.6" y="891.7" width="12" height="11.6" rx="2.5" fill="#0f131c" stroke="#2a3142" stroke-width="0.8"/>
<text x="341.40000000000003" y="901" font-family='"Liberation Sans", sans-serif' font-size="8.5" font-style="italic" fill="#7c9ad6" text-anchor="middle">k</text>
<text x="350.8" y="900.9" font-family='"Liberation Sans", sans-serif' font-size="9.2" font-weight="bold" fill="#dfe5ef" text-anchor="start" letter-spacing="-0.2" >log.level</text>
<rect x="411.5" y="891.7" width="12" height="11.6" rx="2.5" fill="#0f131c" stroke="#2a3142" stroke-width="0.8"/>
<text x="417.3" y="901" font-family='"Liberation Sans", sans-serif' font-size="8.5" font-style="italic" fill="#7c9ad6" text-anchor="middle">k</text>
<text x="426.9" y="900.9" font-family='"Liberation Sans", sans-serif' font-size="9.2" font-weight="bold" fill="#dfe5ef" text-anchor="start" letter-spacing="-0.2" >service.name</text>
<rect x="507.7" y="891.7" width="12" height="11.6" rx="2.5" fill="#0f131c" stroke="#2a3142" stroke-width="0.8"/>
<text x="513.5" y="901" font-family='"Liberation Sans", sans-serif' font-size="8.5" font-style="italic" fill="#7c9ad6" text-anchor="middle">t</text>
<text x="523.0" y="900.9" font-family='"Liberation Sans", sans-serif' font-size="9.2" font-weight="bold" fill="#dfe5ef" text-anchor="start" letter-spacing="-0.2" >message</text>
<rect x="6" y="908" width="1228.4" height="13.5" fill="#26272d"/>
<line x1="6" y1="908.5" x2="1234.4" y2="908.5" stroke="#383944"/>
<rect x="6" y="1324.5" width="1228.4" height="10" fill="#25262c"/>
<line x1="6" y1="1324.5" x2="1234.4" y2="1324.5" stroke="#383944"/>
<line x1="6" y1="921.5" x2="1234.4" y2="921.5" stroke="#383944"/>
<rect x="9.7" y="925.6" width="12" height="11.5" rx="2.8" fill="none" stroke="#8a8c92" stroke-width="0.9"/>
<path d="M31.6 935.4 L37.4 929.6" stroke="#c8ccd4" stroke-width="0.8"/>
<path d="M39.0 927.9 L35.6 928.4 L38.5 931.3 Z M30.0 937.0 L30.5 933.6 L33.4 936.5 Z" fill="#c8ccd4"/>
<text x="46.9" y="934.9" font-family='"Liberation Mono", monospace' font-size="8.47" font-weight="normal" fill="#dfe5ef" text-anchor="start" >Jan 21, 2026 @ 19:39:43.000</text>
<rect x="216.9" y="925.9" width="61.2" height="12" fill="#f2f25a"/>
<text x="217.3" y="934.5" font-family='"Liberation Mono", monospace' font-size="8.47" font-weight="normal" fill="#111111" text-anchor="start" >robert_diggs</text>
<line x1="218" y1="936.7" x2="277" y2="936.7" stroke="#111" stroke-width="0.9" stroke-dasharray="1 1"/>
<text x="334.3" y="934.9" font-family='"Liberation Mono", monospace' font-size="8.47" font-weight="normal" fill="#dfe5ef" text-anchor="start" >info</text>
<text x="410.0" y="934.9" font-family='"Liberation Mono", monospace' font-size="8.47" font-weight="normal" fill="#dfe5ef" text-anchor="start" >RESTIC-BACKUP</text>
<text x="506.0" y="934.9" font-family='"Liberation Mono", monospace' font-size="8.47" font-weight="normal" fill="#dfe5ef" text-anchor="start" >Retention complete: 00 snapshots pruned</text>
<rect x="6" y="966.5" width="1228.4" height="44.0" fill="#25262c"/>
<line x1="6" y1="966.5" x2="1234.4" y2="966.5" stroke="#383944"/>
<rect x="9.7" y="970.6" width="12" height="11.5" rx="2.8" fill="none" stroke="#8a8c92" stroke-width="0.9"/>
<path d="M31.6 980.4 L37.4 974.6" stroke="#c8ccd4" stroke-width="0.8"/>
<path d="M39.0 972.9 L35.6 973.4 L38.5 976.3 Z M30.0 982.0 L30.5 978.6 L33.4 981.5 Z" fill="#c8ccd4"/>
<text x="46.9" y="979.9" font-family='"Liberation Mono", monospace' font-size="8.47" font-weight="normal" fill="#dfe5ef" text-anchor="start" >Jan 21, 2026 @ 19:39:42.000</text>
<rect x="216.9" y="970.9" width="61.2" height="12" fill="#f2f25a"/>
<text x="217.3" y="979.5" font-family='"Liberation Mono", monospace' font-size="8.47" font-weight="normal" fill="#111111" text-anchor="start" >robert_diggs</text>
<line x1="218" y1="981.7" x2="277" y2="981.7" stroke="#111" stroke-width="0.9" stroke-dasharray="1 1"/>
<text x="334.3" y="979.9" font-family='"Liberation Mono", monospace' font-size="8.47" font-weight="normal" fill="#dfe5ef" text-anchor="start" >info</text>
<text x="410.0" y="979.9" font-family='"Liberation Mono", monospace' font-size="8.47" font-weight="normal" fill="#dfe5ef" text-anchor="start" >RESTIC-BACKUP</text>
<text x="506.0" y="979.9" font-family='"Liberation Mono", monospace' font-size="8.47" font-weight="normal" fill="#dfe5ef" text-anchor="start" >Applying retention policy: 14 daily, 8 weekly, 12 monthly</text>
<line x1="6" y1="1010.5" x2="1234.4" y2="1010.5" stroke="#383944"/>
<rect x="9.7" y="1014.6" width="12" height="11.5" rx="2.8" fill="none" stroke="#8a8c92" stroke-width="0.9"/>
<path d="M31.6 1024.4 L37.4 1018.6" stroke="#c8ccd4" stroke-width="0.8"/>
<path d="M39.0 1016.9 L35.6 1017.4 L38.5 1020.3 Z M30.0 1026.0 L30.5 1022.6 L33.4 1025.5 Z" fill="#c8ccd4"/>
<text x="46.9" y="1023.9" font-family='"Liberation Mono", monospace' font-size="8.47" font-weight="normal" fill="#dfe5ef" text-anchor="start" >Jan 21, 2026 @ 19:39:42.000</text>
<rect x="216.9" y="1014.9" width="61.2" height="12" fill="#f2f25a"/>
<text x="217.3" y="1023.5" font-family='"Liberation Mono", monospace' font-size="8.47" font-weight="normal" fill="#111111" text-anchor="start" >robert_diggs</text>
<line x1="218" y1="1025.7" x2="277" y2="1025.7" stroke="#111" stroke-width="0.9" stroke-dasharray="1 1"/>
<text x="334.3" y="1023.9" font-family='"Liberation Mono", monospace' font-size="8.47" font-weight="normal" fill="#dfe5ef" text-anchor="start" >success</text>
<text x="410.0" y="1023.9" font-family='"Liberation Mono", monospace' font-size="8.47" font-weight="normal" fill="#dfe5ef" text-anchor="start" >RESTIC-BACKUP</text>
<text x="506.0" y="1023.9" font-family='"Liberation Mono", monospace' font-size="8.47" font-weight="normal" fill="#dfe5ef" text-anchor="start" >Backup completed: 7 new, 27 changed, 40.697 MiB added</text>
<rect x="6" y="1055.5" width="1228.4" height="45.0" fill="#25262c"/>
<line x1="6" y1="1055.5" x2="1234.4" y2="1055.5" stroke="#383944"/>
<rect x="9.7" y="1059.6" width="12" height="11.5" rx="2.8" fill="none" stroke="#8a8c92" stroke-width="0.9"/>
<path d="M31.6 1069.4 L37.4 1063.6" stroke="#c8ccd4" stroke-width="0.8"/>
<path d="M39.0 1061.9 L35.6 1062.4 L38.5 1065.3 Z M30.0 1071.0 L30.5 1067.6 L33.4 1070.5 Z" fill="#c8ccd4"/>
<text x="46.9" y="1068.9" font-family='"Liberation Mono", monospace' font-size="8.47" font-weight="normal" fill="#dfe5ef" text-anchor="start" >Jan 21, 2026 @ 19:39:41.000</text>
<rect x="216.9" y="1059.9" width="61.2" height="12" fill="#f2f25a"/>
<text x="217.3" y="1068.5" font-family='"Liberation Mono", monospace' font-size="8.47" font-weight="normal" fill="#111111" text-anchor="start" >robert_diggs</text>
<line x1="218" y1="1070.7" x2="277" y2="1070.7" stroke="#111" stroke-width="0.9" stroke-dasharray="1 1"/>
<text x="334.3" y="1068.9" font-family='"Liberation Mono", monospace' font-size="8.47" font-weight="normal" fill="#dfe5ef" text-anchor="start" >info</text>
<text x="410.0" y="1068.9" font-family='"Liberation Mono", monospace' font-size="8.47" font-weight="normal" fill="#dfe5ef" text-anchor="start" >RESTIC-BACKUP</text>
<text x="506.0" y="1068.9" font-family='"Liberation Mono", monospace' font-size="8.47" font-weight="normal" fill="#dfe5ef" text-anchor="start" >Starting backup with tag: backup-2026-01-21T193941</text>
<line x1="6" y1="1100.5" x2="1234.4" y2="1100.5" stroke="#383944"/>
<rect x="9.7" y="1104.6" width="12" height="11.5" rx="2.8" fill="none" stroke="#8a8c92" stroke-width="0.9"/>
<path d="M31.6 1114.4 L37.4 1108.6" stroke="#c8ccd4" stroke-width="0.8"/>
<path d="M39.0 1106.9 L35.6 1107.4 L38.5 1110.3 Z M30.0 1116.0 L30.5 1112.6 L33.4 1115.5 Z" fill="#c8ccd4"/>
<text x="46.9" y="1113.9" font-family='"Liberation Mono", monospace' font-size="8.47" font-weight="normal" fill="#dfe5ef" text-anchor="start" >Jan 21, 2026 @ 19:39:41.000</text>
<rect x="216.9" y="1104.9" width="61.2" height="12" fill="#f2f25a"/>
<text x="217.3" y="1113.5" font-family='"Liberation Mono", monospace' font-size="8.47" font-weight="normal" fill="#111111" text-anchor="start" >robert_diggs</text>
<line x1="218" y1="1115.7" x2="277" y2="1115.7" stroke="#111" stroke-width="0.9" stroke-dasharray="1 1"/>
<text x="334.3" y="1113.9" font-family='"Liberation Mono", monospace' font-size="8.47" font-weight="normal" fill="#dfe5ef" text-anchor="start" >info</text>
<text x="410.0" y="1113.9" font-family='"Liberation Mono", monospace' font-size="8.47" font-weight="normal" fill="#dfe5ef" text-anchor="start" >RESTIC-BACKUP</text>
<text x="506.0" y="1113.9" font-family='"Liberation Mono", monospace' font-size="8.47" font-weight="normal" fill="#dfe5ef" text-anchor="start" >=== Restic Backup Started ===</text>
<rect x="6" y="1145.5" width="1228.4" height="45.0" fill="#25262c"/>
<line x1="6" y1="1145.5" x2="1234.4" y2="1145.5" stroke="#383944"/>
<rect x="9.7" y="1149.6" width="12" height="11.5" rx="2.8" fill="none" stroke="#8a8c92" stroke-width="0.9"/>
<path d="M31.6 1159.4 L37.4 1153.6" stroke="#c8ccd4" stroke-width="0.8"/>
<path d="M39.0 1151.9 L35.6 1152.4 L38.5 1155.3 Z M30.0 1161.0 L30.5 1157.6 L33.4 1160.5 Z" fill="#c8ccd4"/>
<text x="46.9" y="1158.9" font-family='"Liberation Mono", monospace' font-size="8.47" font-weight="normal" fill="#dfe5ef" text-anchor="start" >Jan 21, 2026 @ 19:39:12.000</text>
<rect x="216.9" y="1149.9" width="61.2" height="12" fill="#f2f25a"/>
<text x="217.3" y="1158.5" font-family='"Liberation Mono", monospace' font-size="8.47" font-weight="normal" fill="#111111" text-anchor="start" >robert_diggs</text>
<line x1="218" y1="1160.7" x2="277" y2="1160.7" stroke="#111" stroke-width="0.9" stroke-dasharray="1 1"/>
<text x="334.3" y="1158.9" font-family='"Liberation Mono", monospace' font-size="8.47" font-weight="normal" fill="#dfe5ef" text-anchor="start" >success</text>
<text x="410.0" y="1158.9" font-family='"Liberation Mono", monospace' font-size="8.47" font-weight="normal" fill="#dfe5ef" text-anchor="start" >ELK-HEALTH-CHECK</text>
<text x="506.0" y="1158.9" font-family='"Liberation Mono", monospace' font-size="8.47" font-weight="normal" fill="#dfe5ef" text-anchor="start" >ELK stack health check completed successfully</text>
<line x1="6" y1="1190.5" x2="1234.4" y2="1190.5" stroke="#383944"/>
<rect x="9.7" y="1194.6" width="12" height="11.5" rx="2.8" fill="none" stroke="#8a8c92" stroke-width="0.9"/>
<path d="M31.6 1204.4 L37.4 1198.6" stroke="#c8ccd4" stroke-width="0.8"/>
<path d="M39.0 1196.9 L35.6 1197.4 L38.5 1200.3 Z M30.0 1206.0 L30.5 1202.6 L33.4 1205.5 Z" fill="#c8ccd4"/>
<text x="46.9" y="1203.9" font-family='"Liberation Mono", monospace' font-size="8.47" font-weight="normal" fill="#dfe5ef" text-anchor="start" >Jan 21, 2026 @ 19:39:11.000</text>
<rect x="216.9" y="1194.9" width="61.2" height="12" fill="#f2f25a"/>
<text x="217.3" y="1203.5" font-family='"Liberation Mono", monospace' font-size="8.47" font-weight="normal" fill="#111111" text-anchor="start" >robert_diggs</text>
<line x1="218" y1="1205.7" x2="277" y2="1205.7" stroke="#111" stroke-width="0.9" stroke-dasharray="1 1"/>
<text x="334.3" y="1203.9" font-family='"Liberation Mono", monospace' font-size="8.47" font-weight="normal" fill="#dfe5ef" text-anchor="start" >info</text>
<text x="410.0" y="1203.9" font-family='"Liberation Mono", monospace' font-size="8.47" font-weight="normal" fill="#dfe5ef" text-anchor="start" >ELK-HEALTH-CHECK</text>
<text x="506.0" y="1203.9" font-family='"Liberation Mono", monospace' font-size="8.47" font-weight="normal" fill="#dfe5ef" text-anchor="start" >Health check section: Data Streams and Indices</text>
<rect x="6" y="1234.5" width="1228.4" height="45.0" fill="#25262c"/>
<line x1="6" y1="1234.5" x2="1234.4" y2="1234.5" stroke="#383944"/>
<rect x="9.7" y="1238.6" width="12" height="11.5" rx="2.8" fill="none" stroke="#8a8c92" stroke-width="0.9"/>
<path d="M31.6 1248.4 L37.4 1242.6" stroke="#c8ccd4" stroke-width="0.8"/>
<path d="M39.0 1240.9 L35.6 1241.4 L38.5 1244.3 Z M30.0 1250.0 L30.5 1246.6 L33.4 1249.5 Z" fill="#c8ccd4"/>
<text x="46.9" y="1247.9" font-family='"Liberation Mono", monospace' font-size="8.47" font-weight="normal" fill="#dfe5ef" text-anchor="start" >Jan 21, 2026 @ 19:39:09.000</text>
<rect x="216.9" y="1238.9" width="61.2" height="12" fill="#f2f25a"/>
<text x="217.3" y="1247.5" font-family='"Liberation Mono", monospace' font-size="8.47" font-weight="normal" fill="#111111" text-anchor="start" >robert_diggs</text>
<line x1="218" y1="1249.7" x2="277" y2="1249.7" stroke="#111" stroke-width="0.9" stroke-dasharray="1 1"/>
<text x="334.3" y="1247.9" font-family='"Liberation Mono", monospace' font-size="8.47" font-weight="normal" fill="#dfe5ef" text-anchor="start" >info</text>
<text x="410.0" y="1247.9" font-family='"Liberation Mono", monospace' font-size="8.47" font-weight="normal" fill="#dfe5ef" text-anchor="start" >ELK-HEALTH-CHECK</text>
<text x="506.0" y="1247.9" font-family='"Liberation Mono", monospace' font-size="8.47" font-weight="normal" fill="#dfe5ef" text-anchor="start" >Health check section: Elasticsearch Cluster Health</text>
<line x1="6" y1="1279.5" x2="1234.4" y2="1279.5" stroke="#383944"/>
<rect x="9.7" y="1283.6" width="12" height="11.5" rx="2.8" fill="none" stroke="#8a8c92" stroke-width="0.9"/>
<path d="M31.6 1293.4 L37.4 1287.6" stroke="#c8ccd4" stroke-width="0.8"/>
<path d="M39.0 1285.9 L35.6 1286.4 L38.5 1289.3 Z M30.0 1295.0 L30.5 1291.6 L33.4 1294.5 Z" fill="#c8ccd4"/>
<text x="46.9" y="1292.9" font-family='"Liberation Mono", monospace' font-size="8.47" font-weight="normal" fill="#dfe5ef" text-anchor="start" >Jan 21, 2026 @ 19:39:09.000</text>
<rect x="216.9" y="1283.9" width="61.2" height="12" fill="#f2f25a"/>
<text x="217.3" y="1292.5" font-family='"Liberation Mono", monospace' font-size="8.47" font-weight="normal" fill="#111111" text-anchor="start" >robert_diggs</text>
<line x1="218" y1="1294.7" x2="277" y2="1294.7" stroke="#111" stroke-width="0.9" stroke-dasharray="1 1"/>
<text x="334.3" y="1292.9" font-family='"Liberation Mono", monospace' font-size="8.47" font-weight="normal" fill="#dfe5ef" text-anchor="start" >info</text>
<text x="410.0" y="1292.9" font-family='"Liberation Mono", monospace' font-size="8.47" font-weight="normal" fill="#dfe5ef" text-anchor="start" >ELK-HEALTH-CHECK</text>
<text x="506.0" y="1292.9" font-family='"Liberation Mono", monospace' font-size="8.47" font-weight="normal" fill="#dfe5ef" text-anchor="start" >auditbeat service is running</text>
<line x1="1234.5" y1="888" x2="1234.5" y2="1328" stroke="#383944"/>
<rect x="1237.9" y="1155.8" width="6.1" height="44.2" rx="3" fill="#5d6069"/>
<path d="M0 1310 L0.5 1310 A20 20 0 0 0 13.3 1328 L0 1328 Z" fill="#000"/>
<path d="M0.5 1300 V1310 A20 20 0 0 0 13.3 1328" fill="none" stroke="#55555a" stroke-width="1.2"/>
</svg>
<div class="edge"></div>
</body></html>
